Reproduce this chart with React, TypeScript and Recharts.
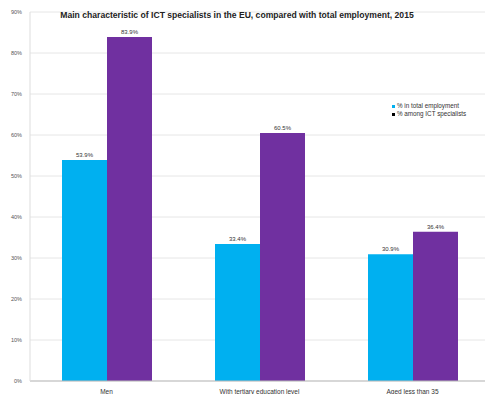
import { BarChart, Bar, XAxis, YAxis, CartesianGrid, LabelList } from "recharts";

const categories = ["Men", "With tertiary education level", "Aged less than 35"];
const totalEmployment = [53.9, 33.4, 30.9];
const ictSpecialists = [83.9, 60.5, 36.4];
const yTicks = [0, 10, 20, 30, 40, 50, 60, 70, 80, 90];

const SERIES = [
  { key: "total", name: "% in total employment", color: "#00B0F0" },
  { key: "ict", name: "% among ICT specialists", color: "#7030A0" },
];

const data = categories.map((c, i) => ({
  category: c,
  total: totalEmployment[i],
  ict: ictSpecialists[i],
}));

const FONT = "'Liberation Sans', Arial, sans-serif";

function LegendBox() {
  return (
    <div
      style={{
        position: "absolute",
        left: 392,
        top: 102,
        fontSize: 6.3,
        color: "#333",
        lineHeight: "8px",
        zIndex: 2,
      }}
    >
      {SERIES.map((s) => (
        <div key={s.key} style={{ display: "flex", alignItems: "center" }}>
          <span
            style={{
              width: 3,
              height: 3,
              background: s.key === "ict" ? "#000" : s.color,
              marginRight: 2,
            }}
          />
          {s.name}
        </div>
      ))}
    </div>
  );
}

export default function App() {
  return (
    <div
      style={{
        position: "absolute",
        left: 0,
        top: 0,
        width: 485,
        height: 394,
        overflow: "hidden",
        background: "#fff",
        fontFamily: FONT,
      }}
    >
      <div
        style={{
          position: "absolute",
          left: 0,
          width: 474,
          top: 10,
          textAlign: "center",
          fontSize: 8.6,
          fontWeight: "bold",
          color: "#222",
          zIndex: 2,
        }}
      >
        Main characteristic of ICT specialists in the EU, compared with total employment, 2015
      </div>
      <LegendBox />
      <BarChart
        width={490}
        height={394}
        data={data}
        margin={{ top: 12, right: 1, left: 0, bottom: 0 }}
        barCategoryGap={32}
        barGap={0}
      >
        <CartesianGrid vertical={false} stroke="#e6e6e6" />
        <XAxis
          dataKey="category"
          height={13}
          stroke="#bbb"
          tickLine={false}
          tick={{ fontSize: 6.5, fill: "#333", fontFamily: FONT }}
          interval={0}
        />
        <YAxis
          width={30}
          domain={[0, 90]}
          ticks={yTicks}
          tickFormatter={(v) => `${v}%`}
          stroke="#ddd"
          tickLine={false}
          tick={{ fontSize: 5.5, fill: "#555", fontFamily: FONT }}
        />
        {SERIES.map((s) => (
          <Bar key={s.key} dataKey={s.key} name={s.name} fill={s.color} isAnimationActive={false}>
            <LabelList
              dataKey={s.key}
              position="top"
              offset={3}
              formatter={(v: number) => `${v}%`}
              style={{ fontSize: 6, fill: "#333", fontFamily: FONT }}
            />
          </Bar>
        ))}
      </BarChart>
    </div>
  );
}
